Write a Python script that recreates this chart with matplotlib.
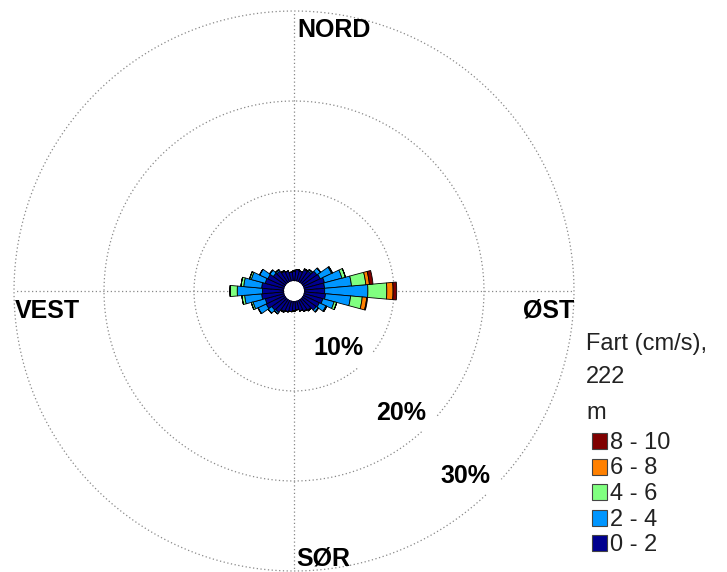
import numpy as np
import matplotlib
matplotlib.use("Agg")
import matplotlib.pyplot as plt
from matplotlib.patches import Rectangle

plt.rcParams['font.family'] = ['Liberation Sans', 'DejaVu Sans']

# direction sectors (degrees, clockwise from north) and frequency (%) per speed class
directions = np.arange(0, 360, 10)
navy = [1.1, 1.3, 1.2, 1.5, 1.6, 2.0, 2.1, 2.4, 2.3, 2.3, 2.4, 2.2, 2.0, 1.9, 1.5, 1.4, 1.2, 1.0,
        1.1, 1.2, 1.3, 1.4, 1.8, 1.9, 2.3, 2.2, 2.5, 2.4, 2.5, 2.2, 2.1, 1.7, 1.6, 1.3, 1.2, 1.0]
blue = [0, 0, 0, 0.1, 0.2, 0.5, 1.4, 2.0, 3.0, 4.8, 2.8, 1.3, 0.8, 0.3, 0.1, 0, 0, 0,
        0, 0, 0, 0.1, 0.2, 0.5, 1.0, 1.4, 1.9, 2.8, 2.0, 1.6, 1.0, 0.5, 0.2, 0.1, 0, 0]
green = [0, 0, 0, 0, 0, 0, 0.1, 0.4, 1.6, 2.1, 1.3, 0.3, 0.1, 0, 0, 0, 0, 0,
         0, 0, 0, 0, 0, 0, 0, 0.2, 0.3, 0.8, 0.3, 0.2, 0, 0, 0, 0, 0, 0]
orange = [0, 0, 0, 0, 0, 0, 0, 0, 0.4, 0.7, 0.5, 0, 0, 0, 0, 0, 0, 0,
          0, 0, 0, 0, 0, 0, 0, 0, 0, 0, 0, 0, 0, 0, 0, 0, 0, 0]
red = [0, 0, 0, 0, 0, 0, 0, 0, 0.4, 0.4, 0.1, 0, 0, 0, 0, 0, 0, 0,
       0, 0, 0, 0, 0, 0, 0, 0, 0, 0, 0, 0, 0, 0, 0, 0, 0, 0]

classes = ['0 - 2', '2 - 4', '4 - 6', '6 - 8', '8 - 10']
colors = ['#00008f', '#0096ff', '#80ff80', '#ff8000', '#800000']
rings = [10, 20, 30]
compass = ['NORD', 'ØST', 'SØR', 'VEST']

W, H = 727, 572
fig = plt.figure(figsize=(W / 100, H / 100), dpi=100)

def fx(x):
    return x / W

def fy(y):
    return 1 - y / H

ax = fig.add_axes([fx(14), fy(571), 560 / W, 560 / H], projection='polar')
ax.set_theta_zero_location('N')
ax.set_theta_direction(-1)
ax.set_ylim(0, 30)
ax.set_rorigin(-1.11)
ax.axis('off')

# dotted rings, with a small gap where the percent labels sit
gap_px = 22
grid = dict(color='#888888', lw=0.9, ls=(0, (1, 2)), clip_on=False, zorder=1)
for r in rings:
    rpx = 10 + 9 * r
    half = np.degrees(gap_px / rpx) / 2
    t = np.radians(np.linspace(134.5 + half, 134.5 - half + 360, 500))
    ax.plot(t, np.full_like(t, r), **grid)

for a in [0, 90, 180, 270]:
    ax.plot([np.radians(a)] * 2, [0, 30], **grid)

theta = np.radians(directions)
bottom = np.zeros(len(directions))
for vals, c in zip([navy, blue, green, orange, red], colors):
    vals = np.array(vals, dtype=float)
    ax.bar(theta, vals, width=np.radians(10), bottom=bottom, color=c,
           edgecolor='black', linewidth=0.6, zorder=3)
    bottom += vals

lab = dict(fontsize=18, fontweight='bold', color='black')
fig.text(fx(297), fy(37), compass[0], ha='left', va='baseline', **lab)
fig.text(fx(574), fy(317), compass[1], ha='right', va='baseline', **lab)
fig.text(fx(296), fy(565), compass[2], ha='left', va='baseline', **lab)
fig.text(fx(15), fy(318), compass[3], ha='left', va='baseline', **lab)

for r, (x, y) in zip(rings, [(338, 355), (401, 420), (465, 483)]):
    fig.text(fx(x), fy(y), f'{r}%', ha='center', va='baseline', **lab)

# legend
leg = dict(fontsize=17, color='#222222')
fig.text(fx(586), fy(350), 'Fart (cm/s),', ha='left', va='baseline', **leg)
fig.text(fx(586), fy(383), '222', ha='left', va='baseline', **leg)
fig.text(fx(586), fy(419), 'm', ha='left', va='baseline', **leg)
for i, (name, c) in enumerate(zip(classes[::-1], colors[::-1])):
    base = 449 + i * 25.5
    fig.add_artist(Rectangle((fx(592), fy(base)), 15 / W, 16 / H,
                             facecolor=c, edgecolor='#444444', lw=0.8,
                             transform=fig.transFigure))
    fig.text(fx(610), fy(base), name, ha='left', va='baseline', **leg)

fig.savefig('out.png', dpi=100)
